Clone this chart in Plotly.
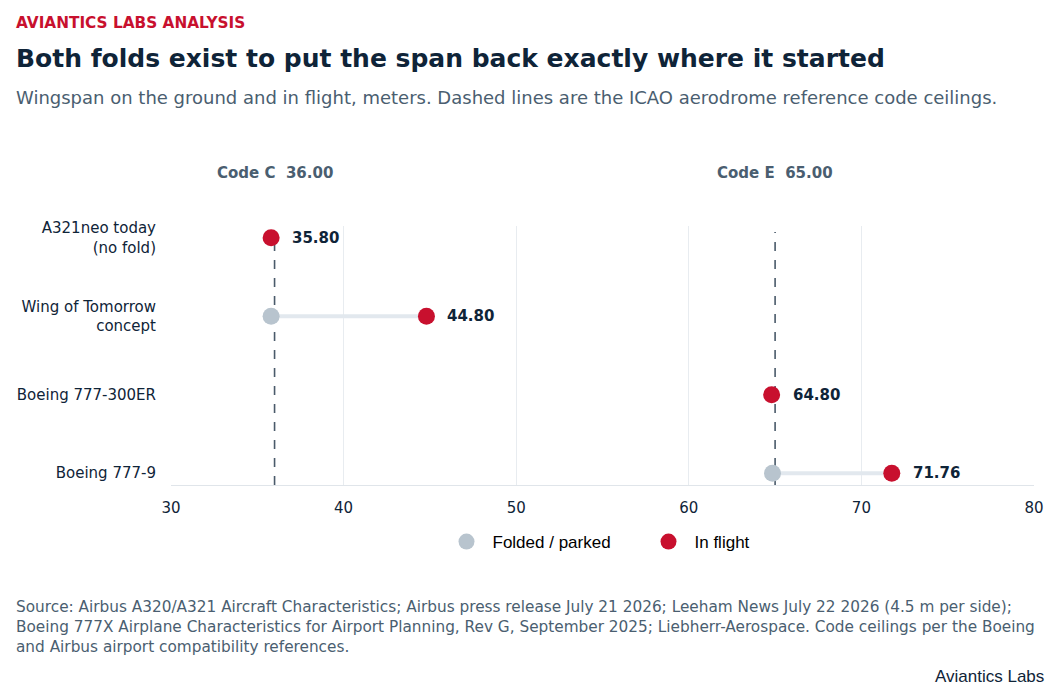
import plotly.graph_objects as go

# Data
aircraft = ["A321neo today<br>(no fold)", "Wing of Tomorrow<br>concept", "Boeing 777-300ER", "Boeing 777-9"]
folded_span = [None, 35.80, None, 64.85]
flight_span = [35.80, 44.80, 64.80, 71.76]
code_names = ["Code C", "Code E"]
code_ceilings = [36.0, 65.0]

RED = "#c8102e"
GREY = "#b8c4ce"
DARK = "#0f2438"
SLATE = "#4a5e70"

W, H = 1060, 700
L, R, T, B = 163, 34, 218, 223
plot_w = W - L - R
plot_h = H - T - B


# page pixel (as seen in the screenshot) -> paper coords; page has an 8px body offset
def px_x(px):
    return (px - 8 - L) / plot_w


def px_y(py):
    return (H - B - (py - 8)) / plot_h


rows = list(range(len(aircraft)))

fig = go.Figure()

# connector lines between folded and flight positions
for i in rows:
    if folded_span[i] is not None:
        fig.add_trace(go.Scatter(
            x=[folded_span[i], flight_span[i]], y=[i, i],
            mode="lines", line=dict(color="#e2e8ee", width=4),
            showlegend=False, hoverinfo="skip"
        ))

# code ceilings (dashed)
for name, val in zip(code_names, code_ceilings):
    fig.add_shape(type="line", x0=val, x1=val, y0=0, y1=px_y(232), xref="x", yref="paper",
                  line=dict(color="#4a5a6a", width=1.6, dash="dash"), layer="below")
    fig.add_annotation(x=val, y=px_y(173), xref="x", yref="paper", text=f"<b>{name}  {val:.2f}</b>",
                       showarrow=False, yanchor="middle", font=dict(size=15, color=SLATE))

fx = [v for v in folded_span if v is not None]
fy = [i for i, v in zip(rows, folded_span) if v is not None]
fig.add_trace(go.Scatter(x=fx, y=fy, mode="markers", name="Folded / parked",
                         marker=dict(color=GREY, size=17)))
fig.add_trace(go.Scatter(x=flight_span, y=rows, mode="markers", name="In flight",
                         marker=dict(color=RED, size=17)))

for i in rows:
    fig.add_annotation(x=flight_span[i], y=i, text=f"<b>{flight_span[i]:.2f}</b>", showarrow=False,
                       xanchor="left", xshift=19, font=dict(size=15, color=DARK))

fig.update_layout(
    width=W, height=H,
    paper_bgcolor="white", plot_bgcolor="white",
    margin=dict(l=L, r=R, t=T, b=B, autoexpand=False),
    font=dict(family="DejaVu Sans", color=DARK, size=15),
    xaxis=dict(range=[30, 80], tickvals=[30, 40, 50, 60, 70, 80], showgrid=True, gridcolor="#e8ecf0",
               zeroline=False, showline=True, linecolor="#e0e5ea", ticks="", ticklabelstandoff=9,
               tickfont=dict(size=15, color=DARK)),
    yaxis=dict(range=[3.15, -0.15], tickvals=rows, ticktext=aircraft, showgrid=False, zeroline=False,
               showline=False, ticks="", ticklabelstandoff=14, tickfont=dict(size=15, color=DARK)),
    legend=dict(orientation="h", x=0.5 + 40 / plot_w, xanchor="center", y=px_y(542), yanchor="middle",
                itemwidth=42, entrywidth=145,
                font=dict(family="Liberation Sans", size=17, color="black")),
    showlegend=True,
)

fig.add_annotation(text="<b>AVIANTICS LABS ANALYSIS</b>", xref="paper", yref="paper", x=px_x(14), y=px_y(23),
                   xanchor="left", yanchor="middle", showarrow=False, font=dict(size=15.3, color=RED))
fig.add_annotation(text="<b>Both folds exist to put the span back exactly where it started</b>", xref="paper",
                   yref="paper", x=px_x(14), y=px_y(58), xanchor="left", yanchor="middle", showarrow=False,
                   font=dict(size=25, color=DARK))
fig.add_annotation(text="Wingspan on the ground and in flight, meters. Dashed lines are the ICAO aerodrome reference code ceilings.",
                   xref="paper", yref="paper", x=px_x(14), y=px_y(97), xanchor="left", yanchor="middle",
                   showarrow=False, font=dict(size=18, color=SLATE))
fig.add_annotation(text="Source: Airbus A320/A321 Aircraft Characteristics; Airbus press release July 21 2026; Leeham News July 22 2026 (4.5 m per side);<br>"
                        "Boeing 777X Airplane Characteristics for Airport Planning, Rev G, September 2025; Liebherr-Aerospace. Code ceilings per the Boeing<br>"
                        "and Airbus airport compatibility references.",
                   xref="paper", yref="paper", x=px_x(14), y=px_y(627), xanchor="left", yanchor="middle", align="left",
                   showarrow=False, font=dict(size=15.3, color=SLATE))
fig.add_annotation(text="Aviantics Labs", xref="paper", yref="paper", x=px_x(1046), y=px_y(676),
                   xanchor="right", yanchor="middle", showarrow=False,
                   font=dict(family="Liberation Sans", size=17, color=DARK))

fig.write_html("out.html")
